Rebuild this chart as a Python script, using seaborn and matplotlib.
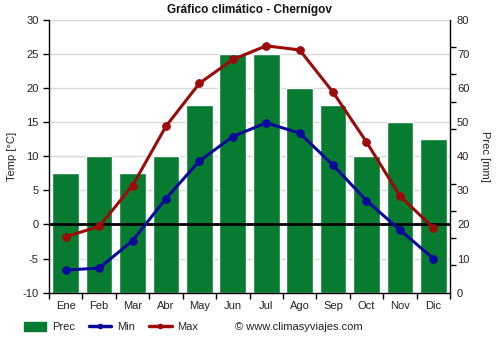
import matplotlib
matplotlib.use('Agg')
import matplotlib.pyplot as plt
import seaborn as sns
import pandas as pd
from matplotlib.patches import Patch
from matplotlib.lines import Line2D
from matplotlib.ticker import FixedLocator, NullFormatter

months = ['Ene', 'Feb', 'Mar', 'Abr', 'May', 'Jun', 'Jul', 'Ago', 'Sep', 'Oct', 'Nov', 'Dic']
prec = [35, 40, 35, 40, 55, 70, 70, 60, 55, 40, 50, 45]
tmin = [-6.7, -6.4, -2.4, 3.8, 9.3, 12.9, 14.9, 13.4, 8.7, 3.5, -0.8, -5.0]
tmax = [-1.8, -0.3, 5.7, 14.4, 20.7, 24.2, 26.2, 25.6, 19.4, 12.1, 4.2, -0.5]

GREEN = '#077c31'
BLUE = '#0a0a9a'
RED = '#9c0a0a'

sns.set_theme(style='white')
plt.rcParams['font.family'] = ['Liberation Sans', 'DejaVu Sans']
plt.rcParams['axes.unicode_minus'] = False

df = pd.DataFrame({'pos': list(range(len(months))), 'Mes': months,
                   'Prec': prec, 'Min': tmin, 'Max': tmax})

fig = plt.figure(figsize=(5, 3.5), dpi=100)
ax = fig.add_axes([0.098, 0.164, 0.802, 0.779])
ax2 = ax.twinx()

# bars on the precipitation axis (behind)
sns.barplot(data=df, x='pos', y='Prec', ax=ax2, color=GREEN, width=0.8,
            saturation=1, zorder=2)
ax2.set_ylim(0, 80)
ax2.yaxis.set_major_locator(FixedLocator(list(range(0, 81, 10))))
ax2.yaxis.set_minor_locator(FixedLocator(list(range(0, 81, 8))))
ax2.yaxis.set_minor_formatter(NullFormatter())
ax2.tick_params(axis='y', which='major', length=0, labelsize=8, colors='#222222', pad=5)
ax2.tick_params(axis='y', which='minor', length=4, width=1, color='black', right=True)
ax2.set_ylabel('Prec [mm]', rotation=270, labelpad=15, fontsize=8, color='#222222')
ax2.set_axisbelow(True)
ax2.grid(axis='y', which='major', color='#d9d9d9', lw=1, zorder=0)
ax2.set_xlabel('')

# temperature lines on top
ax.set_zorder(ax2.get_zorder() + 1)
ax.patch.set_visible(False)
ax.axhline(0, color='black', lw=2, zorder=1)
sns.lineplot(data=df, x='pos', y='Min', ax=ax, color=BLUE, lw=2.2, marker='o',
             markersize=5.5, markeredgecolor=BLUE, zorder=3)
sns.lineplot(data=df, x='pos', y='Max', ax=ax, color=RED, lw=2.2, marker='o',
             markersize=5.5, markeredgecolor=RED, zorder=3)
ax.set_ylim(-10, 30)
ax.set_yticks(list(range(-10, 31, 5)))
ax.tick_params(axis='y', length=4, width=1, color='black', left=True, labelsize=8,
               colors='#222222')
ax.set_ylabel('Temp [°C]', fontsize=8, color='#222222', labelpad=4)

ax.set_xlim(-0.5, len(months) - 0.5)
ax.set_xticks(list(range(len(months))))
ax.set_xticklabels(months)
ax.xaxis.set_minor_locator(FixedLocator([i - 0.5 for i in range(len(months) + 1)]))
ax.tick_params(axis='x', which='major', length=0, labelsize=8, colors='#222222', pad=6)
ax.tick_params(axis='x', which='minor', length=4, width=1, color='black', bottom=True)
ax.set_xlabel('')
ax2.xaxis.set_minor_locator(FixedLocator([i - 0.5 for i in range(len(months) + 1)]))
ax2.set_axisbelow(True)
ax2.grid(axis='x', which='minor', color='#d9d9d9', lw=1, zorder=0)
ax2.tick_params(axis='x', which='both', length=0)

for a in (ax, ax2):
    for s in a.spines.values():
        s.set_visible(False)
ax.spines['left'].set_visible(True)
ax.spines['left'].set_color('black')
ax.spines['bottom'].set_visible(True)
ax.spines['bottom'].set_color('black')
ax2.spines['right'].set_visible(True)
ax2.spines['right'].set_color('black')
for s in ('left', 'bottom'):
    ax.spines[s].set_linewidth(1)
ax2.spines['right'].set_linewidth(1)

ax.set_title('Gráfico climático - Chernígov', fontsize=8.5, fontweight='bold',
             color='#111111', pad=5)

handles = [Patch(facecolor=GREEN, edgecolor=GREEN),
           Line2D([0], [0], color=BLUE, lw=2.5, marker='o', markersize=3),
           Line2D([0], [0], color=RED, lw=2.5, marker='o', markersize=3)]
fig.legend(handles, ['Prec', 'Min', 'Max'], loc='center left',
           bbox_to_anchor=(0.048, 0.066), ncol=3, frameon=False, fontsize=8,
           handlelength=2.0, handleheight=1.0, columnspacing=1.3, handletextpad=0.5,
           borderpad=0, borderaxespad=0)
fig.text(0.47, 0.066, '© www.climasyviajes.com', fontsize=8, color='#222222',
         va='center', ha='left')

fig.savefig('out.png', dpi=100)
